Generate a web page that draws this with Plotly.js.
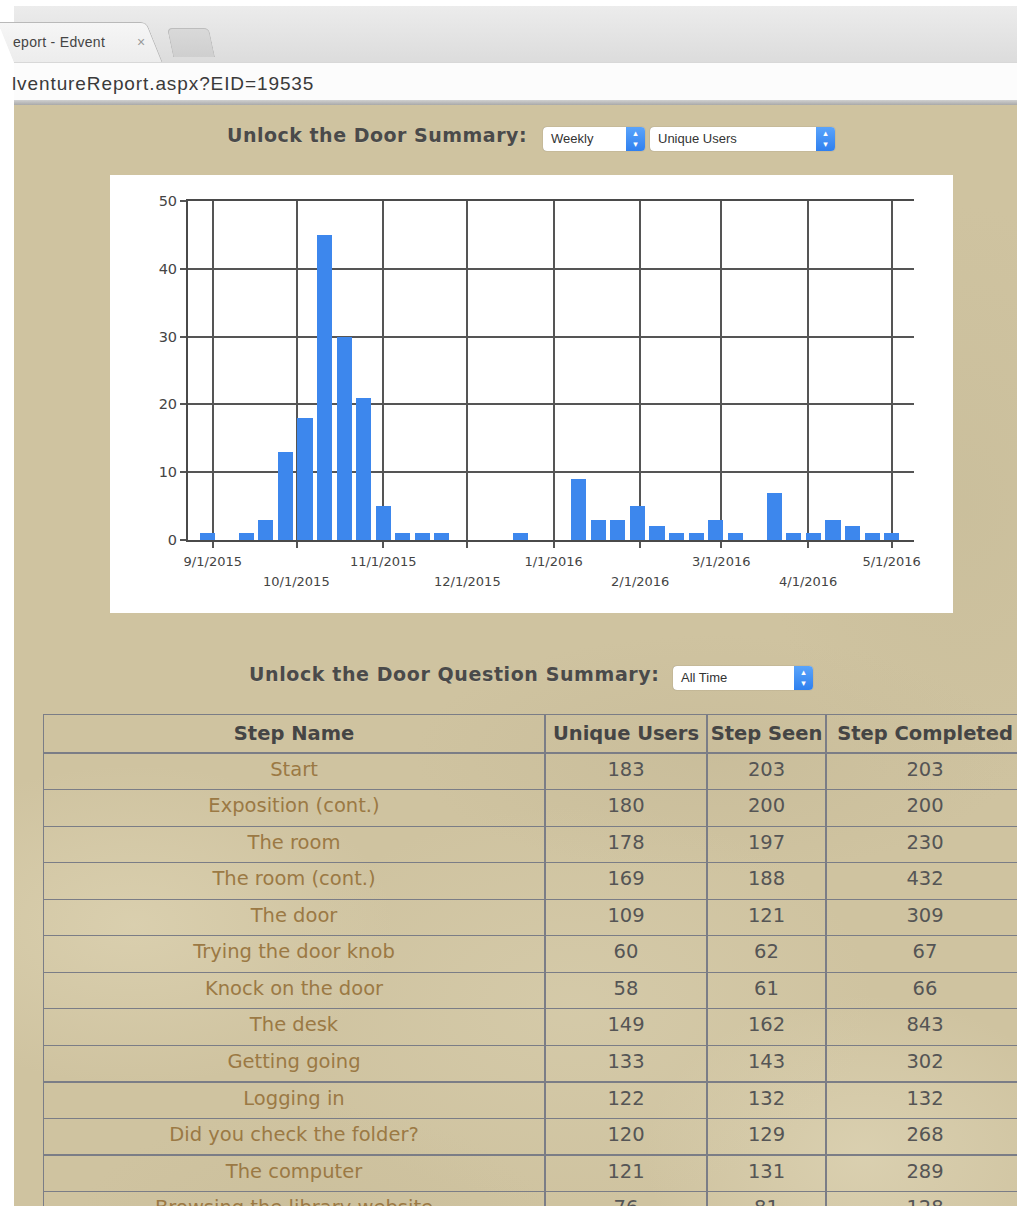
<!DOCTYPE html>
<html><head><meta charset="utf-8">
<script src="https://cdn.plot.ly/plotly-3.0.1.min.js"></script>
<style>
html,body{margin:0;padding:0;width:1017px;height:1206px;overflow:hidden;background:#fff;}
.abs{position:absolute;}
#tabbar{left:14px;top:6px;width:1003px;height:56px;background:linear-gradient(#ececec,#dcdcdc);}
#tab1{left:14px;top:22px;width:148px;height:40px;background:linear-gradient(#f6f6f6,#ececec);border-top:1px solid #b9b9b9;border-right:1px solid #b9b9b9;border-top-right-radius:6px;transform:skewX(22deg);transform-origin:bottom left;}
#tab1txt{left:13px;top:34px;font:14px "Liberation Sans",Arial,sans-serif;color:#444;letter-spacing:0.3px;white-space:nowrap;}
#tab1x{left:137px;top:34px;font:14px "Liberation Sans",Arial,sans-serif;color:#999;}
#tab2{left:170px;top:28px;width:40px;height:28px;background:linear-gradient(#d9d9d9,#cfcfcf);border:1px solid #bdbdbd;border-bottom:none;border-radius:5px 5px 0 0;transform:skewX(12deg);}
#addr{left:14px;top:62px;width:1003px;height:38px;background:#fcfcfc;border-top:1px solid #d8d8d8;}
#addrtxt{left:12px;top:73px;font:19px "Liberation Sans",Arial,sans-serif;color:#3a3a3a;letter-spacing:0.9px;white-space:nowrap;}
#sep{left:14px;top:100px;width:1003px;height:5px;background:linear-gradient(#d0d0d0,#a9a9a9);}
#parch{left:14px;top:105px;width:1003px;height:1101px;background-color:#cfc3a0;
background-image:
radial-gradient(ellipse 260px 160px at 120px 820px, rgba(222,212,180,0.7), rgba(222,212,180,0) 100%),
radial-gradient(ellipse 300px 200px at 560px 900px, rgba(216,206,174,0.6), rgba(216,206,174,0) 100%),
radial-gradient(ellipse 220px 160px at 850px 1050px, rgba(225,216,186,0.6), rgba(225,216,186,0) 100%),
radial-gradient(ellipse 300px 120px at 700px 650px, rgba(196,184,150,0.5), rgba(196,184,150,0) 100%),
radial-gradient(ellipse 250px 150px at 300px 1150px, rgba(198,186,150,0.45), rgba(198,186,150,0) 100%),
radial-gradient(ellipse 200px 300px at 950px 400px, rgba(198,187,152,0.5), rgba(198,187,152,0) 100%);}
.ttl{font:bold 19px "DejaVu Sans",sans-serif;color:#4a4a4a;letter-spacing:0.5px;white-space:nowrap;text-shadow:0 1px 0 rgba(255,255,255,0.15);}
.sel{background:#fff;border-radius:4px;box-shadow:0 0 1px rgba(0,0,0,0.45);overflow:hidden;}
.sel span{position:absolute;left:8px;top:4px;font:13px "Liberation Sans",Arial,sans-serif;color:#333;white-space:nowrap;}
.sel i{position:absolute;right:0;top:0;bottom:0;width:19px;background:linear-gradient(#5aa4fb,#2f80ef);color:#fff;font:bold 9px "DejaVu Sans",sans-serif;font-style:normal;text-align:center;line-height:11px;padding-top:1px;box-sizing:border-box;}
#chartbox{left:110px;top:175px;width:843px;height:438px;background:#fff;}
#tbl{left:43px;top:714px;width:981px;height:560px;}
</style></head>
<body>
<div id="tabbar" class="abs"></div>
<div id="tab1" class="abs"></div>
<div id="tab1txt" class="abs">eport - Edvent</div>
<div id="tab1x" class="abs">×</div>
<div id="tab2" class="abs"></div>
<div id="addr" class="abs"></div>
<div id="addrtxt" class="abs">lventureReport.aspx?EID=19535</div>
<div id="sep" class="abs"></div>
<div id="parch" class="abs"></div>

<div class="abs ttl" style="left:227px;top:124px;">Unlock the Door Summary:</div>
<div class="abs sel" style="left:543px;top:127px;width:102px;height:24px;"><span>Weekly</span><i>▴<br>▾</i></div>
<div class="abs sel" style="left:650px;top:127px;width:185px;height:24px;"><span>Unique Users</span><i>▴<br>▾</i></div>
<div id="chartbox" class="abs"><div id="chart" style="width:843px;height:438px;"></div></div>

<div class="abs ttl" style="left:249px;top:663px;letter-spacing:0.6px;">Unlock the Door Question Summary:</div>
<div class="abs sel" style="left:673px;top:666px;width:140px;height:24px;"><span>All Time</span><i>▴<br>▾</i></div>
<div id="tbl" class="abs"></div>

<script>
// ---- Chart data ----
var weekStarts = ['2015-08-30','2015-09-06','2015-09-13','2015-09-20','2015-09-27','2015-10-04','2015-10-11','2015-10-18','2015-10-25','2015-11-01','2015-11-08','2015-11-15','2015-11-22','2015-11-29','2015-12-06','2015-12-13','2015-12-20','2015-12-27','2016-01-03','2016-01-10','2016-01-17','2016-01-24','2016-01-31','2016-02-07','2016-02-14','2016-02-21','2016-02-28','2016-03-06','2016-03-13','2016-03-20','2016-03-27','2016-04-03','2016-04-10','2016-04-17','2016-04-24','2016-05-01'];
var uniqueUsers = [1,0,1,3,13,18,45,30,21,5,1,1,1,0,0,0,1,0,0,9,3,3,5,2,1,1,3,1,0,7,1,1,3,2,1,1];
var tickDates = ['2015-09-01','2015-10-01','2015-11-01','2015-12-01','2016-01-01','2016-02-01','2016-03-01','2016-04-01','2016-05-01'];
var tickLabels = ['9/1/2015','10/1/2015','11/1/2015','12/1/2015','1/1/2016','2/1/2016','3/1/2016','4/1/2016','5/1/2016'];
var yTicks = [0,10,20,30,40,50];

// ---- Table data ----
var stepNames = ['Start','Exposition (cont.)','The room','The room (cont.)','The door','Trying the door knob','Knock on the door','The desk','Getting going','Logging in','Did you check the folder?','The computer','Browsing the library website'];
var stepUnique = [183,180,178,169,109,60,58,149,133,122,120,121,76];
var stepSeen = [203,200,197,188,121,62,61,162,143,132,129,131,81];
var stepCompleted = [203,200,230,432,309,67,66,843,302,132,268,289,128];
var headers = ['Step Name','Unique Users','Step Seen','Step Completed'];

var tickFont = {family:'DejaVu Sans, sans-serif', size:13, color:'#444'};
var yTickFont = {family:'DejaVu Sans, sans-serif', size:14.5, color:'#444'};
var gridCol = '#555';

// labels of odd months on the axis row, others on a lower row via annotations
var tickTextTop = tickLabels.map(function(t,i){return i%2===0 ? t : '';});
var annotations = tickDates.map(function(d,i){
  if(i%2===0) return null;
  return {x:d, xref:'x', y:0, yref:'paper', yanchor:'top', yshift:-32, showarrow:false,
          text:tickLabels[i], font:tickFont};
}).filter(function(a){return a;});

Plotly.newPlot('chart', [{
  type:'bar', x:weekStarts, y:uniqueUsers,
  width:5.4*24*3600*1000,
  marker:{color:'#3d87ed', line:{width:0}},
  hoverinfo:'none'
}], {
  width:843, height:438,
  margin:{l:78, r:39, t:26, b:73},
  paper_bgcolor:'#fff', plot_bgcolor:'#fff',
  showlegend:false, bargap:0,
  xaxis:{type:'date', range:['2015-08-23 03:00','2016-05-09'],
    tickmode:'array', tickvals:tickDates, ticktext:tickTextTop,
    showgrid:true, gridcolor:gridCol, gridwidth:2,
    ticks:'outside', ticklen:6, tickwidth:2, tickcolor:gridCol,
    showline:true, mirror:true, linecolor:'#4a4a4a', linewidth:2,
    zeroline:false, tickfont:tickFont, ticklabelstandoff:2, fixedrange:true},
  yaxis:{range:[0,50], tickmode:'array', tickvals:yTicks,
    showgrid:true, gridcolor:gridCol, gridwidth:2,
    ticks:'outside', ticklen:6, tickwidth:2, tickcolor:gridCol,
    showline:true, linecolor:'#4a4a4a', linewidth:2,
    zeroline:false, tickfont:yTickFont, fixedrange:true},
  annotations:annotations
}, {staticPlot:true, displayModeBar:false});

// non-breaking spaces keep each header on a single line
var nb = function(s){return String(s).replace(/ /g,'\u00A0');};
Plotly.newPlot('tbl', [{
  type:'table',
  columnwidth:[502,162,119,198],
  header:{
    values:headers.map(function(h){return '<b>'+nb(h)+'</b>';}),
    align:'center', height:34.5,
    fill:{color:'rgba(0,0,0,0)'},
    line:{color:'#7b7d86', width:1.2},
    font:{family:'DejaVu Sans, sans-serif', size:19.5, color:'#454545'}
  },
  cells:{
    values:[stepNames.map(nb), stepUnique, stepSeen, stepCompleted],
    align:'center', height:36.55,
    fill:{color:'rgba(0,0,0,0)'},
    line:{color:'#7b7d86', width:1.2},
    font:{family:'DejaVu Sans, sans-serif', size:19.5, color:['#9b7944','#555','#555','#555']}
  }
}], {
  width:981, height:560, margin:{l:0,r:0,t:0,b:0},
  paper_bgcolor:'rgba(0,0,0,0)'
}, {staticPlot:true, displayModeBar:false});
</script>
</body></html>
